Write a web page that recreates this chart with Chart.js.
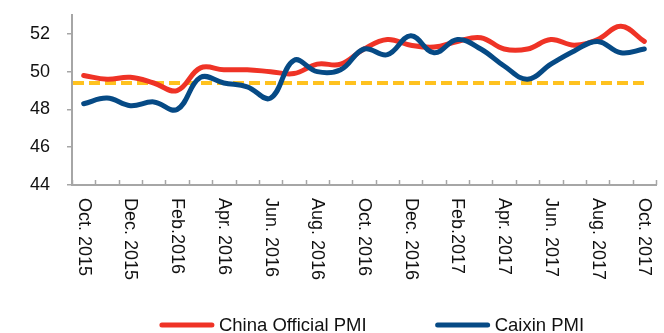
<!DOCTYPE html>
<html>
<head>
<meta charset="utf-8">
<script src="https://cdn.jsdelivr.net/npm/chart.js@4/dist/chart.umd.min.js"></script>
<style>
  html, body { margin: 0; padding: 0; background: #fff; }
  #c { display: block; }
</style>
</head>
<body>
<canvas id="c" width="664" height="333"></canvas>
<script>
// Monthly PMI readings, Oct 2015 – Oct 2017
const months = ['Oct. 2015', 'Nov. 2015', 'Dec. 2015', 'Jan. 2016', 'Feb.2016', 'Mar. 2016',
  'Apr. 2016', 'May 2016', 'Jun. 2016', 'Jul. 2016', 'Aug. 2016', 'Sep. 2016', 'Oct. 2016',
  'Nov. 2016', 'Dec. 2016', 'Jan. 2017', 'Feb.2017', 'Mar. 2017', 'Apr. 2017', 'May 2017',
  'Jun. 2017', 'Jul. 2017', 'Aug. 2017', 'Sep. 2017', 'Oct. 2017'];
const officialPMI = [49.8, 49.6, 49.7, 49.4, 49.0, 50.2, 50.1, 50.1, 50.0, 49.9, 50.4, 50.4, 51.2,
  51.7, 51.4, 51.3, 51.6, 51.8, 51.2, 51.2, 51.7, 51.4, 51.7, 52.4, 51.6];
const caixinPMI = [48.3, 48.6, 48.2, 48.4, 48.0, 49.7, 49.4, 49.2, 48.6, 50.6, 50.0, 50.1, 51.2,
  50.9, 51.9, 51.0, 51.7, 51.2, 50.3, 49.6, 50.4, 51.1, 51.6, 51.0, 51.2];
const yTicks = [44, 46, 48, 50, 52];
const referenceLevel = 49.4;

const FONT = '"Liberation Sans", Arial, sans-serif';
const AXIS_GREY = '#a6a6a6';
const TEXT = '#111111';

// Horizontal dashed reference level
const referenceLine = {
  id: 'referenceLine',
  beforeDatasetsDraw(chart) {
    const { ctx, chartArea, scales: { x, y } } = chart;
    const py = y.getPixelForValue(referenceLevel);
    ctx.save();
    ctx.strokeStyle = '#ffc21f';
    ctx.lineWidth = 4;
    ctx.setLineDash([11, 5]);
    ctx.beginPath();
    ctx.moveTo(chartArea.left + 1, py);
    ctx.lineTo(x.getPixelForValue(months.length - 1), py);
    ctx.stroke();
    ctx.restore();
  }
};

// Short inward tick marks on the category axis, at the month boundaries
const categoryTicks = {
  id: 'categoryTicks',
  afterDraw(chart) {
    const { ctx, chartArea, scales: { x } } = chart;
    ctx.save();
    ctx.strokeStyle = AXIS_GREY;
    ctx.lineWidth = 1.5;
    ctx.beginPath();
    for (let i = 0; i <= months.length; i++) {
      const px = Math.round(x.getPixelForValue(i - 0.5)) + 0.5;
      ctx.moveTo(px, chartArea.bottom);
      ctx.lineTo(px, chartArea.bottom - 5);
    }
    ctx.stroke();
    ctx.restore();
  }
};

// Category labels, every second month, turned to read top-to-bottom
const monthLabels = {
  id: 'monthLabels',
  afterDraw(chart) {
    const { ctx, chartArea, scales: { x } } = chart;
    ctx.save();
    ctx.font = '18px ' + FONT;
    ctx.fillStyle = TEXT;
    ctx.textAlign = 'left';
    ctx.textBaseline = 'middle';
    months.forEach((m, i) => {
      if (i % 2) return;
      ctx.save();
      ctx.translate(x.getPixelForValue(i), chartArea.bottom + 13);
      ctx.rotate(Math.PI / 2);
      ctx.fillText(m, 0, 0);
      ctx.restore();
    });
    ctx.restore();
  }
};

// Legend with line samples
const lineLegend = {
  id: 'lineLegend',
  afterDraw(chart) {
    const { ctx, chartArea } = chart;
    const sample = 54, gap = 5, spacing = 69;
    ctx.save();
    ctx.font = '18.5px ' + FONT;
    const items = chart.data.datasets.map(ds => ({
      text: ds.label, color: ds.borderColor, w: ctx.measureText(ds.label).width
    }));
    const total = items.reduce((s, it) => s + sample + gap + it.w, 0) + spacing * (items.length - 1);
    let cx = (chartArea.left + chartArea.right) / 2 + 8 - total / 2;
    const cy = chart.height - 8;
    ctx.textAlign = 'left';
    ctx.textBaseline = 'middle';
    items.forEach(it => {
      ctx.strokeStyle = it.color;
      ctx.lineWidth = 5;
      ctx.lineCap = 'round';
      ctx.beginPath();
      ctx.moveTo(cx + 2, cy);
      ctx.lineTo(cx + sample - 2, cy);
      ctx.stroke();
      ctx.fillStyle = TEXT;
      ctx.fillText(it.text, cx + sample + gap, cy + 1);
      cx += sample + gap + it.w + spacing;
    });
    ctx.restore();
  }
};

new Chart(document.getElementById('c'), {
  type: 'line',
  data: {
    labels: months,
    datasets: [
      {
        label: 'China Official PMI',
        data: officialPMI,
        borderColor: '#ef3326',
        backgroundColor: '#ef3326',
        borderWidth: 5,
        order: 1
      },
      {
        label: 'Caixin PMI',
        data: caixinPMI,
        borderColor: '#064a85',
        backgroundColor: '#064a85',
        borderWidth: 5,
        order: 0
      }
    ]
  },
  options: {
    responsive: false,
    animation: false,
    devicePixelRatio: 1,
    layout: { padding: { left: 30, right: 8, top: 15, bottom: 148 } },
    elements: {
      line: { tension: 0.4, borderCapStyle: 'round', borderJoinStyle: 'round', fill: false },
      point: { radius: 0, hoverRadius: 0 }
    },
    plugins: {
      legend: { display: false },
      tooltip: { enabled: false }
    },
    scales: {
      x: {
        offset: true,
        grid: { display: false, drawTicks: false },
        border: { color: AXIS_GREY, width: 2 },
        ticks: { display: false }
      },
      y: {
        min: 44,
        max: 53,
        afterBuildTicks: s => { s.ticks = yTicks.map(v => ({ value: v })); },
        afterFit: s => { s.width = 42; },
        grid: {
          drawOnChartArea: false,
          drawTicks: true,
          tickLength: 5,
          color: AXIS_GREY,
          lineWidth: 1.5
        },
        border: { color: AXIS_GREY, width: 2 },
        ticks: {
          padding: 2,
          crossAlign: 'far',
          color: TEXT,
          font: { family: FONT, size: 18 }
        }
      }
    }
  },
  plugins: [referenceLine, categoryTicks, monthLabels, lineLegend]
});
</script>
</body>
</html>
